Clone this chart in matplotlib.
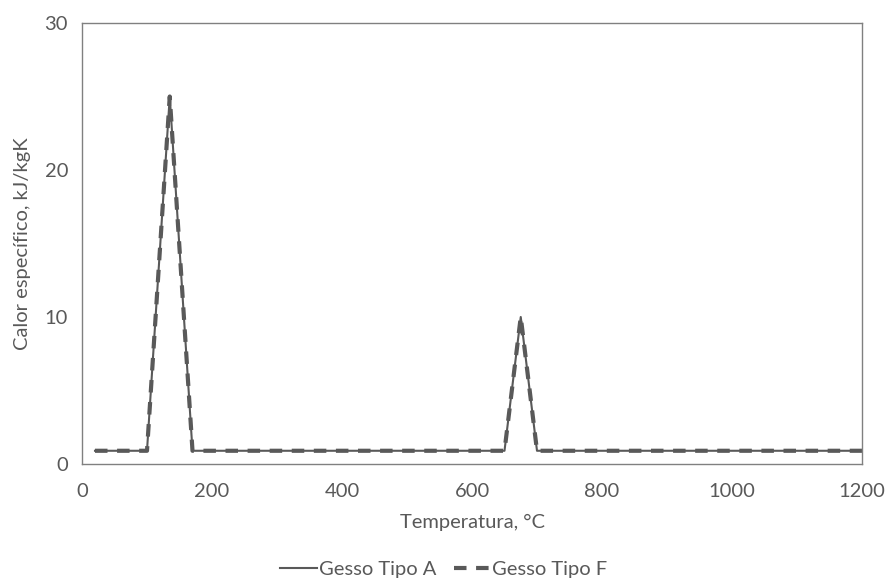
import matplotlib
matplotlib.use("Agg")
import matplotlib.pyplot as plt

plt.rcParams['font.family'] = ['Lato', 'DejaVu Sans']

temp = [20, 100, 135, 170, 650, 675, 700, 1200]
gesso_a = [0.9, 0.9, 25, 0.9, 0.9, 10, 0.9, 0.9]
gesso_f = [0.9, 0.9, 25, 0.9, 0.9, 10, 0.9, 0.9]

W, H = 888, 581
fig = plt.figure(figsize=(W/100, H/100), dpi=100)
ax = fig.add_axes([82/W, 1-464/H, (862-82)/W, (464-23)/H])

gray = '#595959'
ax.plot(temp, gesso_a, color='#595959', lw=1.5, label='Gesso Tipo A')
ax.plot(temp, gesso_f, color='#595959', lw=3, dashes=(3, 2.3), label='Gesso Tipo F')

ax.set_xlim(0, 1200)
ax.set_ylim(0, 30)
ax.set_xticks(range(0, 1201, 200))
ax.set_yticks([0, 10, 20, 30])
ax.tick_params(axis='x', length=0, labelsize=14.5, colors=gray, pad=14)
ax.tick_params(axis='y', length=0, labelsize=14.5, colors=gray, pad=10)
for s in ax.spines.values():
    s.set_color('#808080')
    s.set_linewidth(1)
ax.set_xlabel('Temperatura, °C', fontsize=14.5, color=gray, labelpad=10)
ax.set_ylabel('Calor específico, kJ/kgK', fontsize=14.5, color=gray, labelpad=10)

leg = fig.legend(loc='lower center', bbox_to_anchor=(0.5, -0.026), ncol=2, frameon=False,
                 fontsize=14.5, handlelength=1.8, handletextpad=0.1, columnspacing=0.9)
for t in leg.get_texts():
    t.set_color(gray)

fig.savefig('out.png', dpi=100)
